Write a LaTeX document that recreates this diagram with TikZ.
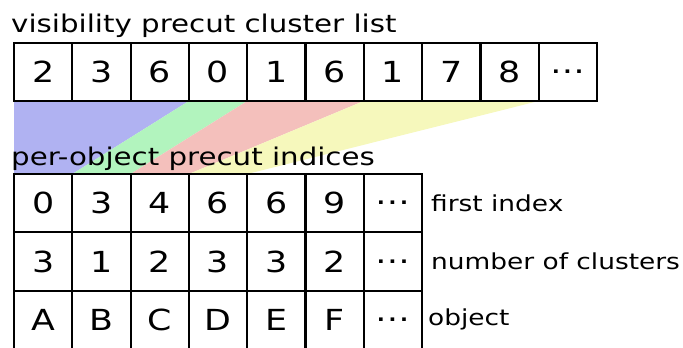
\documentclass[tikz,border=0pt]{standalone}
\usepackage{fontspec}
\setmainfont{DejaVu Sans}[FakeStretch=1.2]
\usetikzlibrary{backgrounds}
\definecolor{bandblue}{RGB}{176,178,242}
\definecolor{bandgreen}{RGB}{178,244,190}
\definecolor{bandred}{RGB}{244,192,188}
\definecolor{bandyellow}{RGB}{246,248,188}
\begin{document}
\begin{tikzpicture}[x=1pt,y=-1pt,
  cell/.style={draw,line width=2.2pt,minimum width=58.3pt,minimum height=58.3pt,
    inner sep=0pt,outer sep=0pt,font=\fontsize{29}{30}\selectfont},
  heading/.style={anchor=base west,inner sep=0pt,font=\fontsize{24.4}{26}\selectfont},
  rowlabel/.style={anchor=west,inner sep=0pt,font=\fontsize{22}{24}\selectfont}]
\useasboundingbox (0,0) rectangle (683,348);
\clip (0,0) rectangle (683,348);

% cluster list
\node[heading] (listtitle) at (11,32) {visibility precut cluster list};
\foreach \v [count=\i from 0] in {2,3,6,0,1,6,1,7,8,…}
  \node[cell] (t\i) at ({43.15+58.3*\i},71.85) {\v};

% per-object table
\node[heading] (tabletitle) at (11,165) {per-object precut indices};
\foreach \v [count=\i from 0] in {0,3,4,6,6,9,…}
  \node[cell] (f\i) at ({43.15+58.3*\i},203.15) {\v};
\foreach \v [count=\i from 0] in {3,1,2,3,3,2,…}
  \node[cell] (n\i) at ({43.15+58.3*\i},261.45) {\v};
\foreach \v [count=\i from 0] in {A,B,C,D,E,F,…}
  \node[cell] (o\i) at ({43.15+58.3*\i},319.75) {\v};

\node[rowlabel] (lfirst) at (431,203.15) {first index};
\node[rowlabel] (lnum) at (431,261.45) {number of clusters};
\node[rowlabel] (lobj) at (428,319.75) {object};

% ranges of the cluster list used by each object
\begin{pgfonlayer}{background}
  \fill[bandblue] (t0.south west) -- (t2.south east) -- (f0.north east) -- (f0.north west) -- cycle;
  \fill[bandgreen] (t3.south west) -- (t3.south east) -- (f1.north east) -- (f1.north west) -- cycle;
  \fill[bandred] (t4.south west) -- (t5.south east) -- (f2.north east) -- (f2.north west) -- cycle;
  \fill[bandyellow] (t6.south west) -- (t8.south east) -- (f3.north east) -- (f3.north west) -- cycle;
\end{pgfonlayer}
\end{tikzpicture}
\end{document}
